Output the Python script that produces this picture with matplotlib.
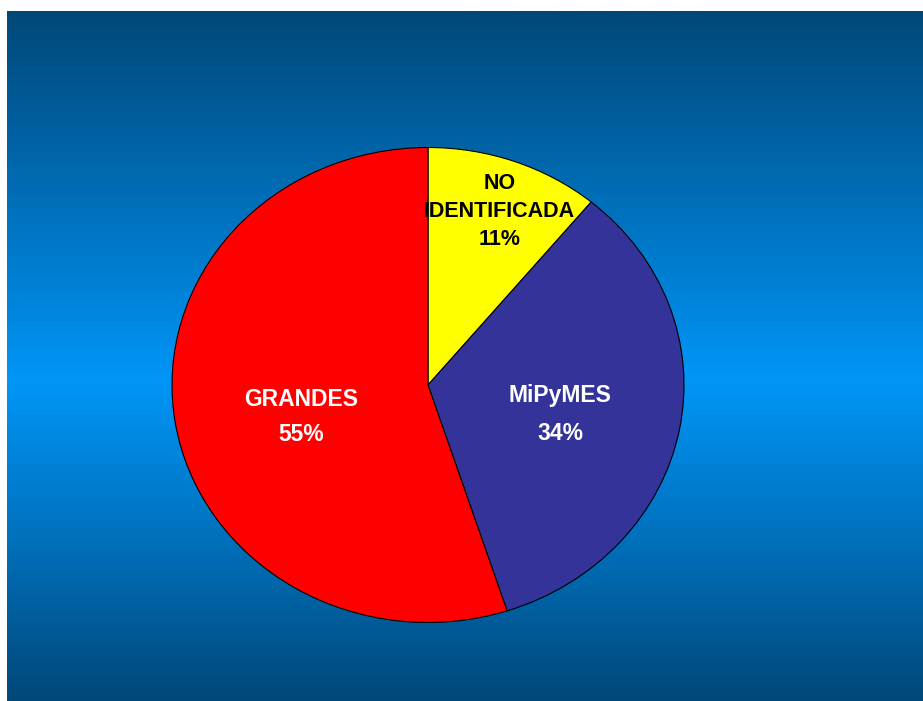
import numpy as np
import matplotlib.pyplot as plt
from matplotlib.colors import LinearSegmentedColormap

# data
labels = ["NO\nIDENTIFICADA", "MiPyMES", "GRANDES"]
shares = [11, 34, 55]
colors = ["#FFFF00", "#333399", "#FF0000"]
text_colors = ["black", "white", "white"]

W, H = 923, 701
fig = plt.figure(figsize=(W / 100, H / 100), dpi=100)
fig.patch.set_facecolor("white")

# gradient background (dark - bright - dark), brightest a bit below middle
bg = fig.add_axes([7 / W, 0, 1 - 7 / W, 1 - 11 / H])
bg.set_axis_off()
cmap = LinearSegmentedColormap.from_list(
    "bg", [(0.0, "#004878"), (0.27, "#006eb8"), (0.536, "#0096f7"),
           (0.78, "#006eb8"), (1.0, "#004878")])
grad = np.linspace(0, 1, 512).reshape(-1, 1)
bg.imshow(grad, aspect="auto", cmap=cmap, extent=[0, 1, 0, 1])

# pie axes (slightly stretched, like the original)
cx, cy, rx, ry = 428, 385, 256, 237.5
ax = fig.add_axes([(cx - rx) / W, 1 - (cy + ry) / H, 2 * rx / W, 2 * ry / H])
ax.patch.set_alpha(0)
wedges, _ = ax.pie(shares, colors=colors, startangle=90, counterclock=False,
                   wedgeprops=dict(edgecolor="black", linewidth=0.8))
ax.set_aspect("auto")
ax.set_xlim(-1, 1)
ax.set_ylim(-1, 1)

fnt = dict(family="Liberation Sans", weight="bold", ha="center", va="center")
pos = [(0.28, 0.73), (0.516, -0.125), (-0.494, -0.135)]
spacing = [1.45, 1.8, 1.71]
sizes = [15.5, 16.5, 16.5]
for lab, s, (x, y), c, ls, fs in zip(labels, shares, pos, text_colors,
                                     spacing, sizes):
    ax.text(x, y, f"{lab}\n{s}%", color=c, linespacing=ls, fontsize=fs, **fnt)

fig.savefig("out.png", dpi=100)
